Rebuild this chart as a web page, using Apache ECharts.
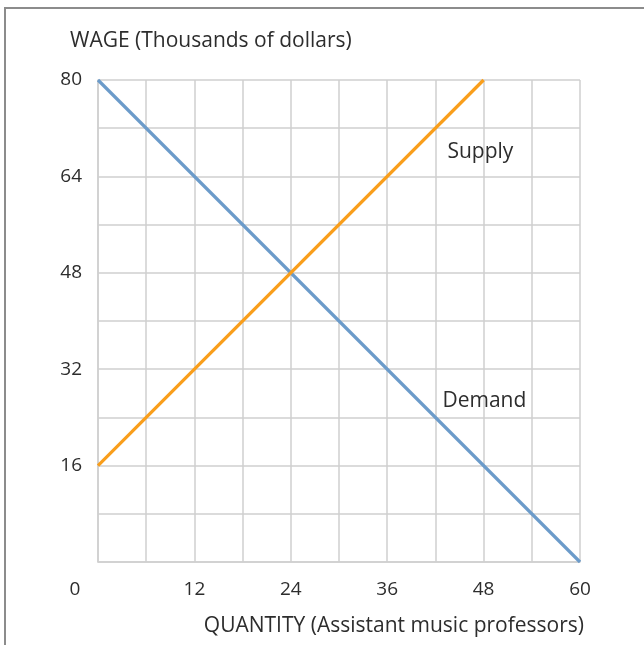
<!DOCTYPE html>
<html>
<head>
<meta charset="utf-8">
<script src="https://cdn.jsdelivr.net/npm/echarts@6/dist/echarts.min.js"></script>
<style>html,body{margin:0;padding:0;background:#fff;}#c{width:644px;height:645px;}</style>
</head>
<body>
<div id="c"></div>
<script>
const xTickLabels = [0, 12, 24, 36, 48, 60];
const yTickLabels = [16, 32, 48, 64, 80];
const supplyQuantity = [0, 48];
const supplyWage = [16, 80];
const demandQuantity = [0, 60];
const demandWage = [80, 0];
const curveLabels = ['Supply', 'Demand'];
const curveLabelPos = [[47.6, 68.1], [48.1, 26.7]];

const FONT = 'Open Sans';
const TXT = '#2d2d2d';
const GRID = '#cfcfcf';
const FS = 19;
const FN = 21;

const chart = echarts.init(document.getElementById('c'), null, {renderer: 'canvas'});
chart.setOption({
  animation: false,
  backgroundColor: '#fff',
  textStyle: {fontFamily: FONT},
  graphic: [{
    type: 'rect', silent: true, z: -10,
    shape: {x: 5, y: 8, width: 800, height: 800},
    style: {fill: 'none', stroke: '#8c8c8c', lineWidth: 2}
  }],
  title: [
    {text: 'WAGE (Thousands of dollars)', left: 65, top: 26,
     textStyle: {fontFamily: FONT, fontSize: FN, fontWeight: 'normal', color: TXT}},
    {text: 'QUANTITY (Assistant music professors)', right: 55, top: 611,
     textStyle: {fontFamily: FONT, fontSize: FN, fontWeight: 'normal', color: TXT}}
  ],
  grid: {left: 98, right: 64, top: 80, bottom: 83, containLabel: false},
  xAxis: {
    type: 'value', min: 0, max: 60, interval: 6,
    axisLine: {show: true, lineStyle: {color: GRID, width: 1.5}},
    axisTick: {show: false},
    splitLine: {show: true, lineStyle: {color: GRID, width: 1.5}},
    axisLabel: {
      margin: 18, fontSize: FS, color: TXT, fontFamily: FONT,
      formatter: v => xTickLabels.includes(v) ? (v === 0 ? '{z|0}' : String(v)) : '',
      rich: {z: {fontSize: FS, color: TXT, fontFamily: FONT, padding: [0, 46, 0, 0]}}
    }
  },
  yAxis: {
    type: 'value', min: 0, max: 80, interval: 8,
    axisLine: {show: true, lineStyle: {color: GRID, width: 1.5}},
    axisTick: {show: false},
    splitLine: {show: true, lineStyle: {color: GRID, width: 1.5}},
    axisLabel: {
      margin: 16, fontSize: FS, color: TXT, fontFamily: FONT,
      formatter: v => yTickLabels.includes(v) ? String(v) : ''
    }
  },
  series: [
    {
      name: 'Demand', type: 'line', symbol: 'none',
      data: demandQuantity.map((q, i) => [q, demandWage[i]]),
      lineStyle: {color: '#6b9bca', width: 3.2},
      markPoint: {
        symbol: 'circle', symbolSize: 0,
        label: {show: true, formatter: curveLabels[1], fontSize: FN, color: TXT, fontFamily: FONT},
        data: [{coord: curveLabelPos[1]}]
      }
    },
    {
      name: 'Supply', type: 'line', symbol: 'none',
      data: supplyQuantity.map((q, i) => [q, supplyWage[i]]),
      lineStyle: {color: '#f99e1b', width: 3.2},
      markPoint: {
        symbol: 'circle', symbolSize: 0,
        label: {show: true, formatter: curveLabels[0], fontSize: FN, color: TXT, fontFamily: FONT},
        data: [{coord: curveLabelPos[0]}]
      }
    }
  ]
});
</script>
</body>
</html>
